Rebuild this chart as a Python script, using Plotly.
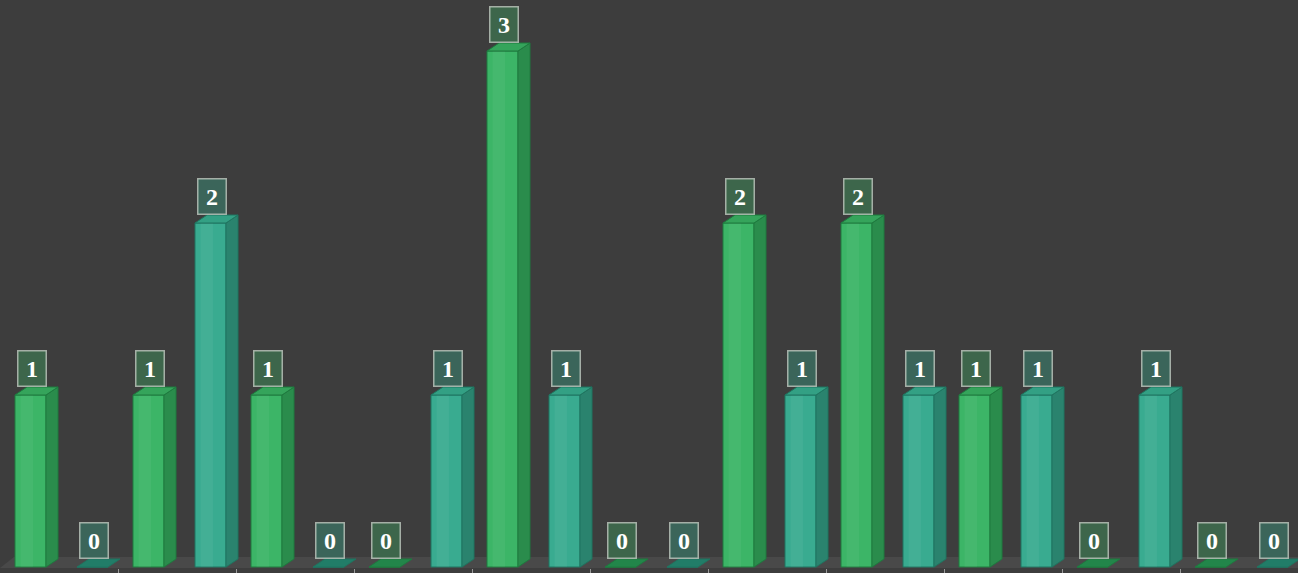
import plotly.graph_objects as go

# Two series over eleven slots (x axis has no tick labels)
slots = list(range(11))
series_green = [1, 1, 1, 0, 3, 0, 2, 2, 1, 0, 0]
series_teal = [0, 2, 0, 1, 1, 0, 1, 1, 1, 1, 0]

W, H = 1298, 573
PX_PER_UNIT_X = W / len(slots)       # pixels per slot
PX_PER_UNIT_Y = 172.0                # pixels per value unit
BOTTOM_MARGIN = 5
PLOT_H = H - BOTTOM_MARGIN
y_lo = -1 / PX_PER_UNIT_Y
y_hi = y_lo + PLOT_H / PX_PER_UNIT_Y

# 3D depth of each bar (in data units)
DX = 12 / PX_PER_UNIT_X
DY = 8 / PX_PER_UNIT_Y
BAR_W = 31 / PX_PER_UNIT_X

styles = {
    "green": dict(front="#3cb567", side="#2a8c4c", top="#35a45b",
                  edge="#1e7a3f", flat="#22864a", label="rgba(61,104,76,0.96)",
                  start=15 / PX_PER_UNIT_X),
    "teal": dict(front="#39ab90", side="#2a836e", top="#33a084",
                 edge="#1f7560", flat="#217d68", label="rgba(59,103,92,0.96)",
                 start=77 / PX_PER_UNIT_X),
}

fig = go.Figure()
annotations = []


def faces(values, start):
    side_x, side_y, top_x, top_y, flat_x, flat_y = [], [], [], [], [], []
    for i, v in zip(slots, values):
        x0 = i + start
        x1 = x0 + BAR_W
        quad_x = [x0, x1, x1 + DX, x0 + DX, x0, None]
        quad_y = [v, v, v + DY, v + DY, v, None]
        if v > 0:
            side_x += [x1, x1 + DX, x1 + DX, x1, x1, None]
            side_y += [0, DY, v + DY, v, 0, None]
            top_x += quad_x
            top_y += quad_y
        else:
            flat_x += quad_x
            flat_y += quad_y
    return side_x, side_y, top_x, top_y, flat_x, flat_y


for name, values in (("green", series_green), ("teal", series_teal)):
    st = styles[name]
    xs = [i + 0.5 for i in slots]
    offset = st["start"] - 0.5
    fig.add_trace(go.Bar(
        x=xs, y=values, width=BAR_W, offset=offset,
        marker=dict(color=st["front"], line=dict(color=st["edge"], width=1)),
        showlegend=False, hoverinfo="skip",
    ))
    # soft highlight stripe on the front face
    fig.add_trace(go.Bar(
        x=xs, y=values, width=BAR_W * 0.4, offset=offset + BAR_W * 0.18,
        marker=dict(color="rgba(255,255,255,0.05)", line=dict(width=0)),
        showlegend=False, hoverinfo="skip",
    ))
    sx, sy, tx, ty, fx, fy = faces(values, st["start"])
    fig.add_trace(go.Scatter(
        x=sx, y=sy, mode="lines", fill="toself", fillcolor=st["side"],
        line=dict(color=st["edge"], width=1), showlegend=False, hoverinfo="skip",
    ))
    fig.add_trace(go.Scatter(
        x=tx, y=ty, mode="lines", fill="toself", fillcolor=st["top"],
        line=dict(color=st["edge"], width=1), showlegend=False, hoverinfo="skip",
    ))
    fig.add_trace(go.Scatter(
        x=fx, y=fy, mode="lines", fill="toself", fillcolor=st["flat"],
        line=dict(color=st["edge"], width=1), showlegend=False, hoverinfo="skip",
    ))
    for i, v in zip(slots, values):
        annotations.append(dict(
            x=i + st["start"] + BAR_W / 2, y=v + DY, xref="x", yref="y",
            xshift=1, yanchor="bottom", yshift=0,
            text=f"<b>{v}</b>", showarrow=False,
            font=dict(family="Liberation Serif, Times New Roman, serif",
                      size=24, color="#ffffff"),
            bgcolor=st["label"], bordercolor="rgba(200,210,200,0.75)",
            borderwidth=1.5, borderpad=0, width=27, height=34,
        ))

# Floor band beneath the bars
floor = dict(type="path", xref="x", yref="y", layer="below",
             path=f"M 0 {y_lo} L 11 {y_lo} L {11 + 14 / PX_PER_UNIT_X} {10 / PX_PER_UNIT_Y} "
                  f"L {14 / PX_PER_UNIT_X} {10 / PX_PER_UNIT_Y} Z",
             fillcolor="#494949", line=dict(width=0))

fig.update_layout(
    width=W, height=H,
    margin=dict(l=0, r=0, t=0, b=BOTTOM_MARGIN),
    paper_bgcolor="#3d3d3d", plot_bgcolor="#3d3d3d",
    barmode="overlay", showlegend=False,
    shapes=[floor], annotations=annotations,
    xaxis=dict(range=[0, 11], showgrid=False, zeroline=False, showline=False,
               tickmode="array", tickvals=list(range(1, 11)), ticks="outside",
               ticklen=5, tickcolor="#9a9a9a", tickwidth=1, showticklabels=False,
               fixedrange=True),
    yaxis=dict(range=[y_lo, y_hi], showgrid=False, zeroline=False,
               showline=False, showticklabels=False, ticks="", fixedrange=True),
)

fig.write_html("out.html")
